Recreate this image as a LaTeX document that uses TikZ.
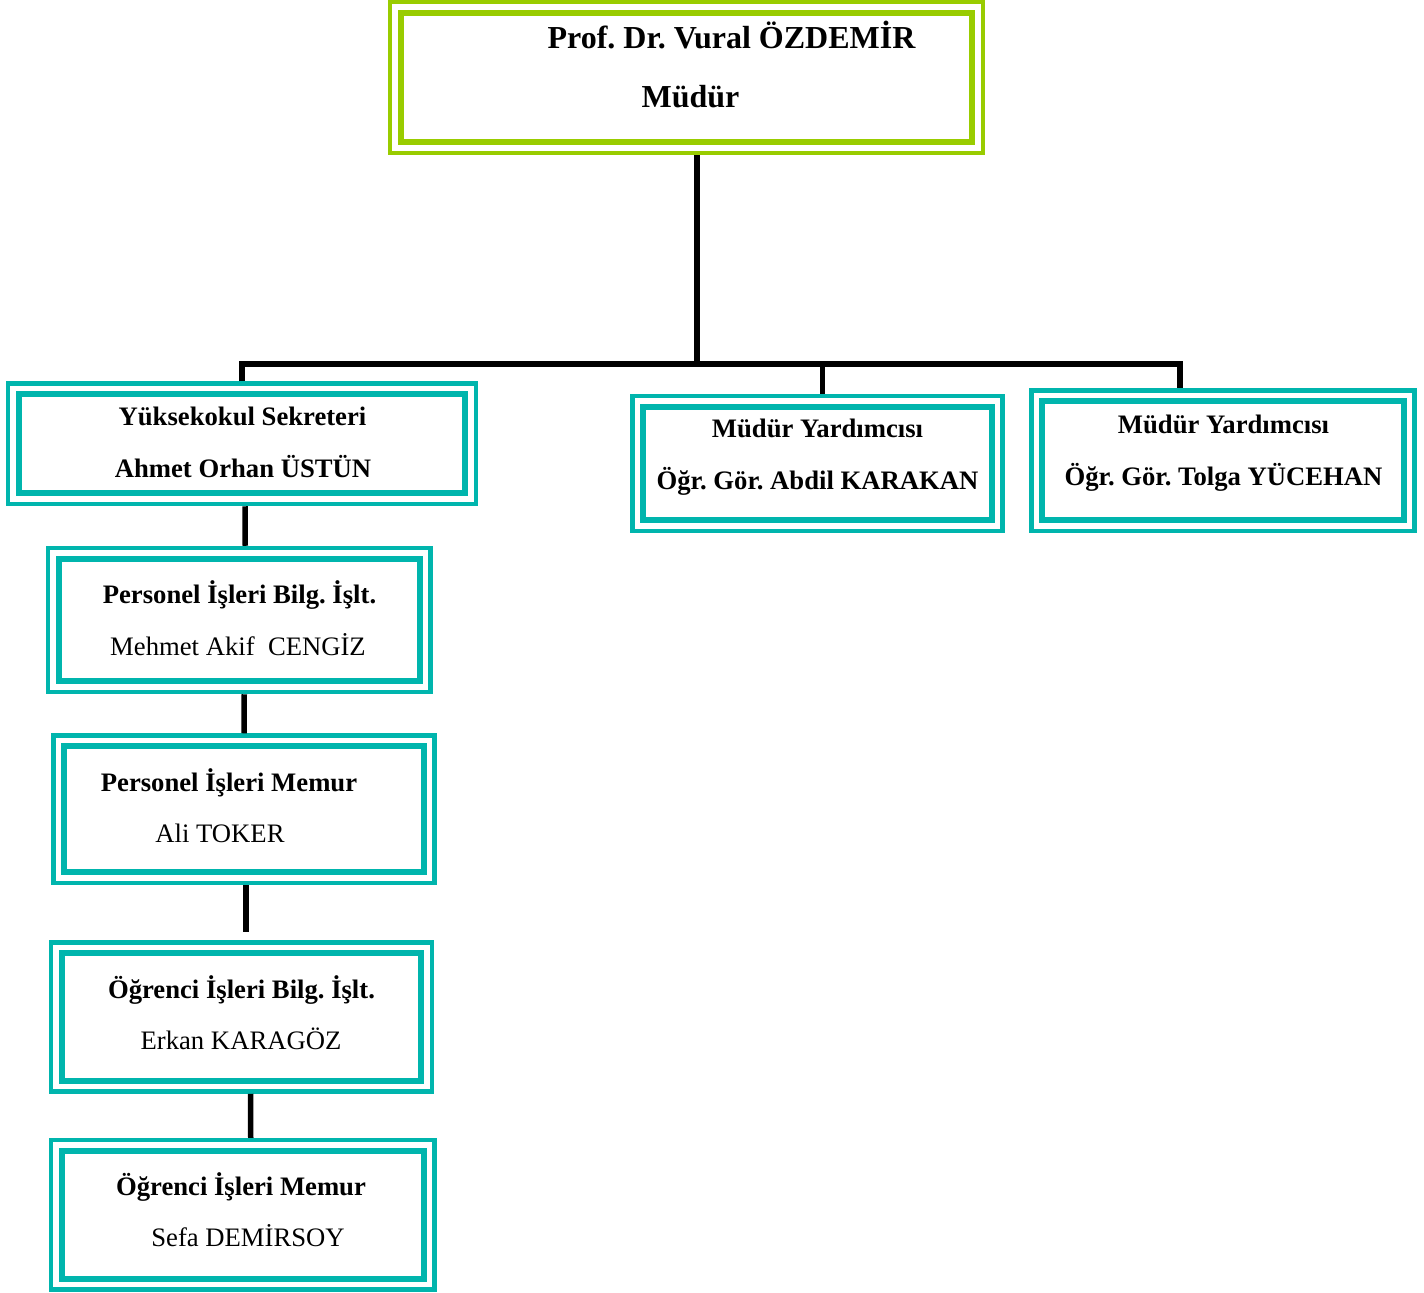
\documentclass[tikz,border=0pt]{standalone}
\usepackage{fontspec}
\setmainfont{Liberation Serif}
\frenchspacing
\usetikzlibrary{calc}
\definecolor{limegreen}{RGB}{153,204,0}
\definecolor{orgteal}{RGB}{0,181,173}
\newcommand{\pxu}{0.75pt}
\tikzset{
  outerbox/.style={draw=orgteal, line width=4.5*\pxu, inner sep=0pt},
  innerline/.style={draw=orgteal, line width=6*\pxu},
  conn/.style={draw=black, line width=5.5*\pxu},
  boldtxt/.style={font=\fontsize{20pt}{24pt}\selectfont\bfseries, anchor=base, inner sep=0pt},
  plaintxt/.style={font=\fontsize{20pt}{24pt}\selectfont, anchor=base, inner sep=0pt},
  toptxt/.style={font=\fontsize{24pt}{28pt}\selectfont\bfseries, anchor=base, inner sep=0pt}
}
\begin{document}
\begin{tikzpicture}[x=0.75pt, y=-0.75pt, line join=miter]
\useasboundingbox (0,0) rectangle (1424,1292);
%%%%%%%%%%%%%%%%%%%%%%%%%%%%%%%%%
% boxes
\node[outerbox, draw=limegreen, minimum width=593*\pxu, minimum height=151*\pxu] (mud) at (686.5,77.5) {};
\node[outerbox, minimum width=468*\pxu, minimum height=120.5*\pxu] (sek) at (242,443.75) {};
\node[outerbox, minimum width=370*\pxu, minimum height=135*\pxu] (my1) at (817.5,463.5) {};
\node[outerbox, minimum width=383*\pxu, minimum height=140.5*\pxu] (my2) at (1223,460.75) {};
\node[outerbox, minimum width=382.5*\pxu, minimum height=144*\pxu] (pib) at (239.25,620) {};
\node[outerbox, minimum width=381*\pxu, minimum height=147.5*\pxu] (pim) at (244,809.25) {};
\node[outerbox, minimum width=381*\pxu, minimum height=149*\pxu] (oib) at (241.5,1017) {};
\node[outerbox, minimum width=383.5*\pxu, minimum height=149.5*\pxu] (oim) at (242.75,1214.75) {};
%%%%%%%%%%%%%%%%%%%%%%%%%%%%%%%%%
% inner thick frames
\draw[innerline, draw=limegreen] ($(mud.north west)+(13,13)$) rectangle ($(mud.south east)-(13,13)$);
\foreach \b in {sek,my1,my2,pib,pim,oib,oim}
  \draw[innerline] ($(\b.north west)+(13,13)$) rectangle ($(\b.south east)-(13,13)$);
%%%%%%%%%%%%%%%%%%%%%%%%%%%%%%%%%
% connectors
\coordinate (hub) at (697,364);
\draw[conn] (mud.south -| hub) -- (hub);
\draw[conn] (sek.north) |- (hub) -| ($(my2.north)+(-43,0)$);
\draw[conn] ($(my1.north)+(5,0)$) -- ($(my1.north |- hub)+(5,0)$);
\draw[conn] ($(sek.south)+(3,0)$) -- ($(pib.north)+(6,0)$);
\draw[conn] ($(pib.south)+(5,0)$) -- (pim.north);
\draw[conn, shorten >=6pt] ($(pim.south)+(2,0)$) -- ($(oib.north)+(4.5,0)$);
\draw[conn] ($(oib.south)+(9,0)$) -- ($(oim.north)+(8,0)$);
%%%%%%%%%%%%%%%%%%%%%%%%%%%%%%%%%
% texts
\node[toptxt] (mudA) at (731.5,48) {Prof. Dr. Vural ÖZDEMİR};
\node[toptxt] (mudB) at (690.5,107) {Müdür};
\node[boldtxt] (sekA) at (242.5,425) {Yüksekokul Sekreteri};
\node[boldtxt] (sekB) at (243,477) {Ahmet Orhan ÜSTÜN};
\node[boldtxt] (my1A) at (817.5,437) {Müdür Yardımcısı};
\node[boldtxt] (my1B) at (817.5,489) {Öğr. Gör. Abdil KARAKAN};
\node[boldtxt] (my2A) at (1223.5,433) {Müdür Yardımcısı};
\node[boldtxt] (my2B) at (1223.5,485) {Öğr. Gör. Tolga YÜCEHAN};
\node[boldtxt] (pibA) at (239.5,603) {Personel İşleri Bilg. İşlt.};
\node[plaintxt] (pibB) at (238,655) {Mehmet Akif\ \ CENGİZ};
\node[boldtxt] (pimA) at (229,791) {Personel İşleri Memur};
\node[plaintxt] (pimB) at (220,842) {Ali TOKER};
\node[boldtxt] (oibA) at (241.5,998) {Öğrenci İşleri Bilg. İşlt.};
\node[plaintxt] (oibB) at (241,1049) {Erkan KARAGÖZ};
\node[boldtxt] (oimA) at (241,1195) {Öğrenci İşleri Memur};
\node[plaintxt] (oimB) at (248,1246) {Sefa DEMİRSOY};
%%%%%%%%%%%%%%%%%%%%%%%%%%%%%%%%%
\end{tikzpicture}
\end{document}
